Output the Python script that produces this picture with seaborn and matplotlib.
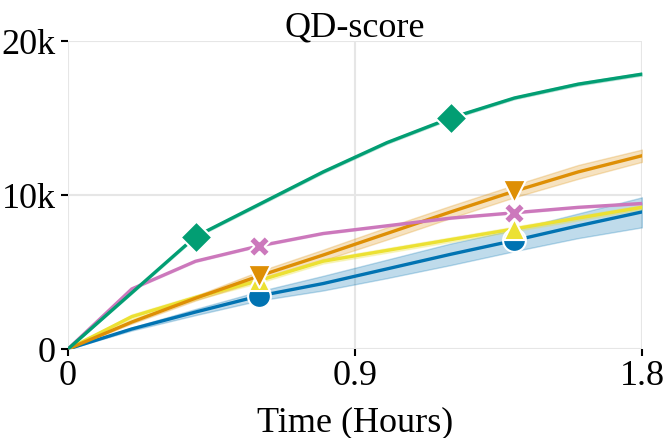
import numpy as np
import pandas as pd
import matplotlib
matplotlib.use("Agg")
import matplotlib.pyplot as plt
import seaborn as sns

# ---- data ----
time_h = [0.0, 0.2, 0.4, 0.6, 0.8, 1.0, 1.2, 1.4, 1.6, 1.8]

green_mean  = [0, 3650, 7300, 9400, 11500, 13400, 15000, 16300, 17200, 17850]
green_lo    = [0, 3600, 7230, 9320, 11420, 13320, 14920, 16220, 17110, 17760]
green_hi    = [0, 3700, 7370, 9480, 11580, 13480, 15080, 16380, 17290, 17940]

orange_mean = [0, 1750, 3300, 4750, 6100, 7500, 8900, 10250, 11500, 12550]
orange_lo   = [0, 1650, 3150, 4450, 5750, 7100, 8500, 9850, 11050, 12150]
orange_hi   = [0, 1850, 3450, 5050, 6450, 7900, 9300, 10650, 11950, 12950]

pink_mean   = [0, 3900, 5700, 6700, 7500, 8000, 8500, 8850, 9200, 9450]
pink_lo     = [0, 3850, 5650, 6650, 7450, 7950, 8450, 8800, 9150, 9400]
pink_hi     = [0, 3950, 5750, 6750, 7550, 8050, 8550, 8900, 9250, 9500]

yellow_mean = [0, 2100, 3350, 4450, 5700, 6400, 7100, 7800, 8500, 9200]
yellow_lo   = [0, 1950, 3200, 4300, 5550, 6250, 6950, 7650, 8350, 9050]
yellow_hi   = [0, 2250, 3500, 4600, 5850, 6550, 7250, 7950, 8650, 9350]

blue_mean   = [0, 1300, 2400, 3450, 4250, 5200, 6150, 7050, 8000, 8900]
blue_lo     = [0, 1200, 2200, 3150, 3800, 4600, 5450, 6350, 7200, 7900]
blue_hi     = [0, 1400, 2600, 3750, 4750, 5800, 6850, 7750, 8800, 9850]

series_names = ["green", "orange", "pink", "yellow", "blue"]
means = [green_mean, orange_mean, pink_mean, yellow_mean, blue_mean]
lows = [green_lo, orange_lo, pink_lo, yellow_lo, blue_lo]
highs = [green_hi, orange_hi, pink_hi, yellow_hi, blue_hi]
marker_idx = [[2, 6], [3, 7], [3, 7], [3, 7], [3, 7]]

x_ticks = [0, 0.9, 1.8]
x_tick_labels = ["0", "0.9", "1.8"]
y_ticks = [0, 10000, 20000]
y_tick_labels = ["0", "10k", "20k"]

# ---- style ----
pal = sns.color_palette("colorblind")
colors = {"green": pal[2], "orange": pal[1], "pink": pal[4],
          "yellow": pal[8], "blue": pal[0]}
markers = {"green": "D", "orange": "v", "pink": "X", "yellow": "^", "blue": "o"}
msizes = {"green": 260, "orange": 270, "pink": 230, "yellow": 230, "blue": 270}

sns.set_theme(style="whitegrid")
plt.rcParams["font.family"] = ["Liberation Serif", "DejaVu Serif"]
plt.rcParams["text.color"] = "black"
plt.rcParams["axes.labelcolor"] = "black"
plt.rcParams["xtick.color"] = "black"
plt.rcParams["ytick.color"] = "black"

fig = plt.figure(figsize=(6.64, 4.39), dpi=100)
ax = fig.add_axes([68/664, 1-350/439, (642-68)/664, (350-42)/439])

rows = []
for name, m in zip(series_names, means):
    for t, v in zip(time_h, m):
        rows.append({"time": t, "score": v, "method": name})
df = pd.DataFrame(rows)

draw_order = ["blue", "yellow", "orange", "pink", "green"]
for name in draw_order:
    i = series_names.index(name)
    sub = df[df.method == name]
    ax.fill_between(time_h, lows[i], highs[i], color=colors[name],
                    alpha=0.25, linewidth=1, zorder=2)
    sns.lineplot(data=sub, x="time", y="score", color=colors[name],
                 linewidth=2.4, ax=ax, zorder=3, errorbar=None)

for name in draw_order:
    i = series_names.index(name)
    sub = df[df.method == name].iloc[marker_idx[i]]
    sns.scatterplot(data=sub, x="time", y="score", color=colors[name],
                    marker=markers[name], s=msizes[name], edgecolor="white",
                    linewidth=1.5, ax=ax, zorder=4, legend=False)

ax.set_xlim(0, 1.8)
ax.set_ylim(0, 20000)
ax.set_xticks(x_ticks)
ax.set_xticklabels(x_tick_labels)
ax.set_yticks(y_ticks)
ax.set_yticklabels(y_tick_labels)
ax.tick_params(axis="both", which="major", labelsize=26, length=5, width=1.5,
               colors="black", direction="out", bottom=True, left=True)
ax.tick_params(axis="x", pad=2.5)
ax.tick_params(axis="y", pad=4)
ax.grid(True, color="#e6e6e6", linewidth=1.5)
for sp in ax.spines.values():
    sp.set_visible(False)
ax.set_xlabel("Time (Hours)", fontsize=26, labelpad=9)
ax.set_ylabel("")
ax.set_title("QD-score", fontsize=26, pad=4)

fig.savefig("out.png", dpi=100)
